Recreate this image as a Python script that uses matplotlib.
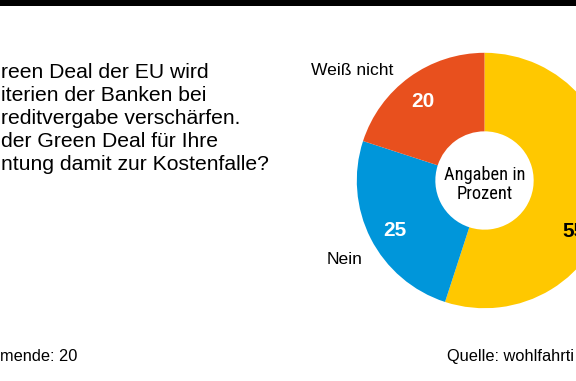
import matplotlib
matplotlib.use("Agg")
import matplotlib.pyplot as plt
import matplotlib.font_manager as fm
from matplotlib.patches import Rectangle
import numpy as np

plt.rcParams['font.family'] = ['Liberation Sans', 'DejaVu Sans']

# data
categories = ["Ja", "Nein", "Weiß nicht"]
values = [55, 25, 20]
colors = ["#FFC800", "#0096DA", "#E8501E"]
value_labels = ["55", "25", "20"]
question_lines = ["reen Deal der EU wird",
                  "iterien der Banken bei",
                  "reditvergabe verschärfen.",
                  "der Green Deal für Ihre",
                  "ntung damit zur Kostenfalle?"]
center_lines = ["Angaben in", "Prozent"]
footer_left = "mende: 20"
footer_right = "Quelle: wohlfahrti"


def find_condensed():
    prefs = ["liberation sans narrow", "roboto condensed", "open sans condensed",
             "noto sans condensed", "dejavu sans condensed", "condensed", "narrow"]
    for p in prefs:
        for f in fm.fontManager.ttflist:
            name = (f.name + " " + str(f.fname)).lower().replace("-", " ").replace("_", " ")
            if p in name or (p in ("condensed", "narrow") and f.stretch in ("condensed", "semi-condensed")):
                if f.style != "normal" or "oblique" in name or "italic" in name:
                    continue
                w = f.weight if isinstance(f.weight, int) else {"normal": 400, "regular": 400}.get(str(f.weight), 700)
                if w < 600 and "bold" not in name and "light" not in name and "thin" not in name \
                        and "medium" not in name and "black" not in name:
                    return fm.FontProperties(fname=f.fname)
    return fm.FontProperties(family=["Liberation Sans", "DejaVu Sans"])


COND = find_condensed()


def cond(size):
    p = COND.copy()
    p.set_size(size)
    return p


W, H = 576, 381
fig = plt.figure(figsize=(W / 100, H / 100), dpi=100)
fig.patch.set_facecolor("white")

# black top bar
fig.patches.append(Rectangle((0, 1 - 6 / H), 1, 6 / H, transform=fig.transFigure,
                             facecolor="black", edgecolor="none"))

# donut
cx, cy, R = 484.5, 180.5, 127.7
L = 1.2
side = 2 * L * R
ax = fig.add_axes([(cx - side / 2) / W, (H - cy - side / 2) / H, side / W, side / H])
wedges, _ = ax.pie(values, colors=colors, startangle=90, counterclock=False,
                   radius=1.0, wedgeprops=dict(width=1 - 0.385, edgecolor="none"))
ax.set_xlim(-L, L)
ax.set_ylim(-L, L)
ax.set_aspect("equal")
ax.axis("off")
for w in wedges:
    w.set_clip_on(False)

angles = [-28.7, 208.4, 127.2]
text_colors = ["black", "white", "white"]
cap_half = 7.4 / R
for lab, ang, tc in zip(value_labels, angles, text_colors):
    r = 0.80
    ax.text(r * np.cos(np.radians(ang)), r * np.sin(np.radians(ang)) - cap_half, lab,
            ha="center", va="baseline", fontsize=15, fontweight="bold", color=tc,
            clip_on=False)

for line, by in zip(center_lines, [179.5, 199]):
    ax.text(0.0, (cy - by) / R, line, ha="center", va="baseline",
            fontproperties=cond(13.2), color="black")

ax.text((352 - cx) / R, (cy - 75) / R, categories[2], ha="center", va="baseline",
        fontsize=12.6)
ax.text((344.5 - cx) / R, (cy - 264) / R, categories[1], ha="center", va="baseline",
        fontsize=12.6)

# question text
baselines = [78, 101, 124, 147, 170]
for line, y in zip(question_lines, baselines):
    fig.text(1 / W, 1 - y / H, line, ha="left", va="baseline", fontsize=15.2)

fig.text(0 / W, 1 - 361 / H, footer_left, ha="left", va="baseline", fontsize=11.8)
fig.text(447 / W, 1 - 361 / H, footer_right, ha="left", va="baseline", fontsize=11.8)

fig.savefig("out.png", dpi=100, facecolor="white")
